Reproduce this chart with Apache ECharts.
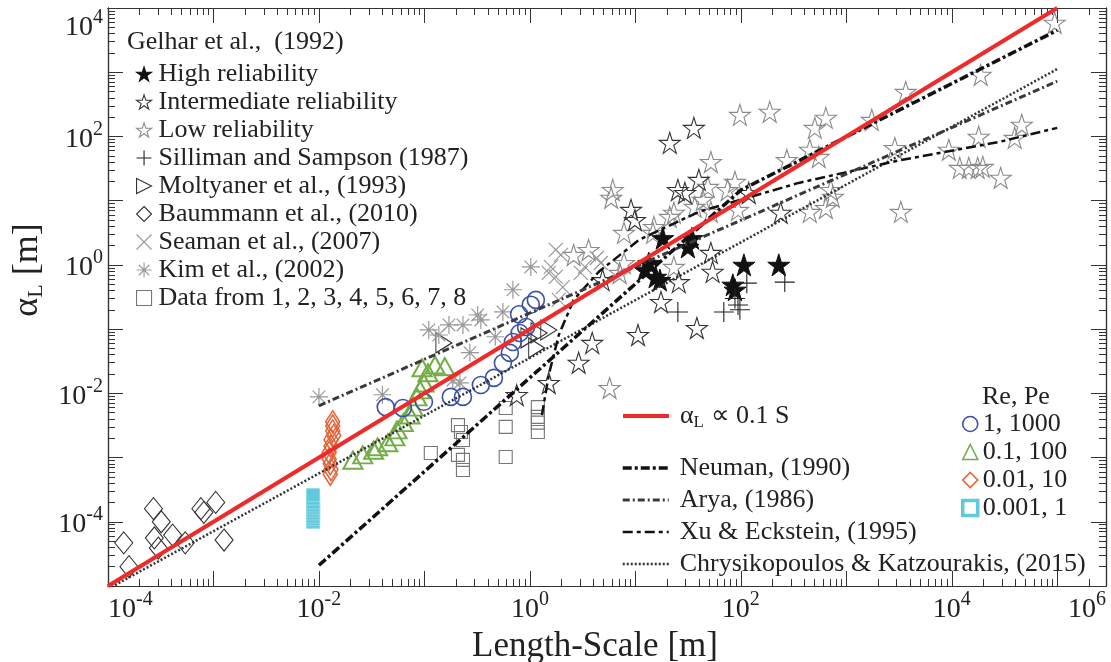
<!DOCTYPE html>
<html><head><meta charset="utf-8">
<script src="https://cdn.jsdelivr.net/npm/echarts@6/dist/echarts.min.js"></script>
<style>html,body{margin:0;padding:0;background:#fff}#c{width:1111px;height:662px}</style>
</head><body><div id="c"></div>
<script>
// ---------------- data (S [m], alpha_L [m]) ----------------
const xLabelExps = [-4, -2, 0, 2, 4];
const yLabelExps = [-4, -2, 0, 2, 4];
const xEdgeLabelExp = 6;
const xMin = 1e-4, xMax = 2.9e5, yMin = 1e-5, yMax = 1e4;

const highRel = [[18.2,2.6],[31.5,1.9],[34.4,2.6],[12.3,0.84],[15.6,0.65],[17.1,0.58],[13.4,1.07],[107,1.0],[229,1.0],[84,0.49],[88,0.41]];
const interRel = [[35.9,136],[21.2,79.5],[9.1,7.2],[9.9,5.0],[25.3,14.7],[29.5,13.2],[40,21.1],[119,13.2],[239,6.5],[52,1.54],[54,0.78],[25.8,0.54],[17.5,0.265],[4.9,0.58],[10.6,0.081],[38.3,0.104],[3.9,0.061],[2.9,0.030],[1.51,0.0145],[0.75,0.0094]];
const lowRel = [[94600,5900],[18800,912],[3660,495],[1745,181],[640,195],[503,136],[188,242],[98,217],[52,40],[451,62],[548,48],[273,43],[2884,66],[9376,62],[18000,99],[46100,152],[39500,95],[11900,32.4],[14500,32.4],[17600,32.4],[19700,33.6],[29100,22.7],[3290,6.7],[6.1,14.7],[5.9,11.1],[7.8,3.15],[15,3.9],[14.7,3.15],[21.2,5.6],[23.2,6.5],[48.7,16.4],[36.6,8.0],[43.6,10.3],[52,6.7],[75,14.7],[88,19.6],[94,7.2],[451,6.7],[640,7.7],[745,11.5],[713,14.7],[23.2,0.93],[7.8,1.07],[7.1,0.75],[5.7,0.0121],[3.6,1.71],[2.6,1.43]];
const silliman = [[114,0.52],[261,0.54],[25.3,0.185],[69,0.185],[94,0.238],[98,0.2],[88,0.3]];
const moltyaner = [[0.153,0.061],[0.98,0.073],[1.22,0.087],[1.51,0.097],[1.16,0.051]];
const baummann = [[1.41e-4,4.7e-5],[1.58e-4,2.0e-5],[2.7e-4,1.6e-4],[3.2e-4,1.0e-4],[2.75e-4,5.6e-5],[3.0e-4,3.9e-5],[4.1e-4,6.2e-5],[5.4e-4,4.7e-5],[7.6e-4,1.6e-4],[8.1e-4,1.4e-4],[1.05e-3,2.0e-4],[1.26e-3,5.2e-5]];
const seaman = [[1.97,1.43],[1.76,0.65],[2.05,0.45],[3.32,0.93],[3.04,0.75],[4.3,1.28],[4.7,1.07],[1.51,0.75],[1.76,1.71],[1.58,0.93],[1.88,0.285]];
const kim = [[0.01,8.8e-3],[0.040,9.5e-3],[0.171,0.116],[0.232,0.116],[0.343,0.139],[0.555,0.185],[0.27,0.043],[0.186,0.016],[0.217,0.0145],[1.02,0.93],[0.69,0.41],[0.32,0.166],[0.137,0.081],[0.11,0.097],[0.47,0.076]];
const dataRefs = [[0.115,1.18e-3],[0.208,3.2e-3],[0.222,2.5e-3],[0.232,1.88e-3],[0.208,1.1e-3],[0.232,9.2e-4],[0.232,6.4e-4],[0.59,5.9e-3],[0.59,3.0e-3],[0.59,1.02e-3],[1.19,6.1e-3],[1.19,4.3e-3],[1.19,3.5e-3],[1.19,2.5e-3]];

const re1 = [[0.043,6.1e-3],[0.0625,5.9e-3],[0.099,7.4e-3],[0.178,8.8e-3],[0.232,8.8e-3],[0.343,0.0135],[0.456,0.0174],[0.555,0.0297],[0.646,0.0426],[0.69,0.063],[0.80,0.087],[0.92,0.108],[0.79,0.17],[1.02,0.24],[1.14,0.285]];
const re01 = [[0.021,9.1e-4],[0.026,1.1e-3],[0.033,1.3e-3],[0.036,1.47e-3],[0.045,1.7e-3],[0.0525,2.1e-3],[0.055,2.7e-3],[0.063,3.5e-3],[0.073,4.6e-3],[0.078,6.1e-3],[0.085,8.8e-3],[0.091,0.0113],[0.099,0.0145],[0.108,0.0209],[0.126,0.0276],[0.156,0.026],[0.095,0.025]];
const re001 = [[0.0135,3.6e-3],[0.0135,3.1e-3],[0.0135,2.6e-3],[0.0138,2.2e-3],[0.013,1.9e-3],[0.013,1.5e-3],[0.0125,1.2e-3],[0.0125,9.5e-4],[0.0128,8e-4],[0.013,6.5e-4],[0.0128,5.5e-4]];
const re0001 = [[0.0088,1.0e-4],[0.0088,1.1e-4],[0.0088,1.2e-4],[0.0088,1.35e-4],[0.0088,1.5e-4],[0.0088,1.65e-4],[0.0088,1.8e-4],[0.0088,2.0e-4],[0.0088,2.3e-4],[0.0088,2.6e-4]];

const redLine = [[1e-4,1e-5],[1e5,1e4]];
const neuman = [[0.01,2.1e-5],[100,14.6],[1e5,4500]];
const arya = [[0.01,0.0064],[1e5,725]];
const xuEck = [[1.3,0.0046],[1.51,0.0194],[1.88,0.081],[2.6,0.285],[4.5,0.78],[10.8,2.45],[40,6.7],[354,18.9],[3300,43],[2.8e4,82],[1e5,136]];
const chrys = [[1e-4,0.9e-5],[1e5,1120]];

// ---------------- styling ----------------
const FONT = '"Liberation Serif","Times New Roman",serif';
const TXT = '#222';
const STAR = 'path://M50,0L61.2,34.5L97.6,34.5L68.2,55.9L79.4,90.5L50,69.1L20.6,90.5L31.8,55.9L2.4,34.5L38.8,34.5Z';
const PLUS = 'path://M50,0L50,100M0,50L100,50';
const CROSS = 'path://M0,0L100,100M100,0L0,100';
const AST = 'path://M50,0L50,100M0,50L100,50M15,15L85,85M85,15L15,85';
const TRIR = 'path://M0,0L100,50L0,100Z';
const NONE = 'rgba(0,0,0,0)';
const RED_NAME = 'αL ∝ 0.1 S';
const CYAN = '#62c9dc';

function minorVals(lo, hi, vmin, vmax) {
  const out = [];
  for (let e = lo; e <= hi; e++) for (let m = 2; m <= 9; m++) {
    const v = m * Math.pow(10, e);
    if (v > vmin && v < vmax) out.push(v);
  }
  return out;
}
const minorX = minorVals(-4, 5, xMin, xMax);
const minorY = minorVals(-5, 3, yMin, yMax);

const richTick = {
  b: {fontFamily: FONT, fontSize: 28, color: TXT, verticalAlign: 'bottom'},
  e: {fontFamily: FONT, fontSize: 20, color: TXT, verticalAlign: 'top', padding: [0, 0, 14, 0]}
};
function expOf(v) { return Math.log10(v); }

function axisCommon(kind, pos, withLabel, minor) {
  const isX = kind === 'x';
  const a = {
    type: 'log', logBase: 10,
    min: isX ? xMin : yMin, max: isX ? xMax : yMax,
    position: pos, splitNumber: 12,
    axisLine: {show: true, onZero: false, lineStyle: {color: '#333', width: 1.2}},
    splitLine: {show: false},
    axisTick: minor
      ? {show: true, inside: true, length: 7, customValues: isX ? minorX : minorY, lineStyle: {color: '#333', width: 1}}
      : {show: true, inside: true, length: 15, lineStyle: {color: '#333', width: 1}},
    axisLabel: {show: false}
  };
  if (withLabel) {
    a.axisLabel = {
      show: true, margin: isX ? 4 : 5, rich: richTick,
      formatter: function (v) {
        const e = expOf(v), r = Math.round(e);
        if (Math.abs(e - r) > 0.02) return isX ? '{b|10}{e|' + xEdgeLabelExp + '}' : '';
        const list = isX ? xLabelExps : yLabelExps;
        return list.indexOf(r) >= 0 ? '{b|10}{e|' + r + '}' : '';
      }
    };
    if (isX) { a.axisLabel.alignMinLabel = 'left'; a.axisLabel.alignMaxLabel = 'right'; }
    else { a.axisLabel.verticalAlignMaxLabel = 'top'; }
  }
  return a;
}

const xAxes = [axisCommon('x', 'bottom', true, false), axisCommon('x', 'top', false, false),
               axisCommon('x', 'bottom', false, true), axisCommon('x', 'top', false, true)];
xAxes[0].name = 'Length-Scale [m]';
xAxes[0].nameLocation = 'middle';
xAxes[0].nameGap = 33;
xAxes[0].nameTextStyle = {fontFamily: FONT, fontSize: 35, color: TXT, padding: [0, 24, 0, 0]};
const yAxes = [axisCommon('y', 'left', true, false), axisCommon('y', 'right', false, false),
               axisCommon('y', 'left', false, true), axisCommon('y', 'right', false, true)];
yAxes[0].name = '{a|α}{s|L}{a| [m]}';
yAxes[0].nameLocation = 'middle';
yAxes[0].nameGap = 60;
yAxes[0].nameTextStyle = {
  padding: [0, 0, 0, 54],
  rich: {
    a: {fontFamily: FONT, fontSize: 36, color: TXT, lineHeight: 40},
    s: {fontFamily: FONT, fontSize: 22, color: TXT, verticalAlign: 'bottom'}
  }
};

function sc(name, data, symbol, size, fill, stroke, bw, z) {
  return {
    type: 'scatter', name: name, data: data, symbol: symbol, symbolSize: size,
    xAxisIndex: 0, yAxisIndex: 0, z: z || 2,
    itemStyle: {color: fill, borderColor: stroke, borderWidth: bw, opacity: 1},
    emphasis: {disabled: true}
  };
}
function ln(name, data, color, width, type, z) {
  return {
    type: 'line', name: name, data: data, symbol: 'none', xAxisIndex: 0, yAxisIndex: 0,
    z: z || 5, color: color,
    lineStyle: {color: color, width: width, type: type, cap: 'butt'},
    emphasis: {disabled: true}
  };
}

const series = [
  sc('Data from 1, 2, 3, 4, 5, 6, 7, 8', dataRefs, 'rect', 13, NONE, '#777', 1.1),
  sc('Baummann et al., (2010)', baummann, 'diamond', [18, 22], NONE, '#333', 1.1),
  sc('Low reliability', lowRel, STAR, 21, NONE, '#8a8a8a', 1.1),
  sc('Intermediate reliability', interRel, STAR, 21, NONE, '#333', 1.1),
  sc('High reliability', highRel, STAR, 22, '#111', '#111', 1),
  sc('Silliman and Sampson (1987)', silliman, PLUS, 20, NONE, '#222', 1.1),
  sc('Moltyaner et al., (1993)', moltyaner, TRIR, [16, 20], NONE, '#333', 1.1),
  sc('Seaman et al., (2007)', seaman, CROSS, 14, NONE, '#999', 1.2),
  sc('Kim et al., (2002)', kim, AST, 18, NONE, '#999', 1.2),
  sc('0.001, 1', re0001, 'rect', 13, CYAN, '#8fd9e6', 1, 3),
  sc('0.01, 10', re001, 'diamond', [14, 22], NONE, '#e4643a', 1.6, 3),
  sc('0.1, 100', re01, 'triangle', [19, 17], NONE, '#73ad47', 2, 3),
  sc('1, 1000', re1, 'circle', 17, NONE, '#3c50a5', 1.6, 3),
  ln('Chrysikopoulos & Katzourakis, (2015)', chrys, '#333', 2.5, [2, 2]),
  ln('Xu & Eckstein, (1995)', xuEck, '#111', 2.5, [10, 4, 4, 4]),
  ln('Arya, (1986)', arya, '#3a3a3a', 3, [7, 3, 2, 3]),
  ln('Neuman, (1990)', neuman, '#111', 3.5, [9, 3, 3, 3]),
  ln(RED_NAME, redLine, '#ee2a2a', 4, 'solid', 6)
];

const legText = {fontFamily: FONT, fontSize: 26, color: TXT};
const legends = [
  {
    data: ['High reliability','Intermediate reliability','Low reliability','Silliman and Sampson (1987)',
           'Moltyaner et al., (1993)','Baummann et al., (2010)','Seaman et al., (2007)','Kim et al., (2002)',
           'Data from 1, 2, 3, 4, 5, 6, 7, 8'],
    orient: 'vertical', left: 136, top: 61, itemWidth: 15, itemHeight: 15, itemGap: 2, padding: 0,
    selectedMode: false, textStyle: Object.assign({padding: [0, 0, 0, 2]}, legText),
    itemStyle: {borderWidth: 1.1}
  },
  {
    data: [RED_NAME], orient: 'vertical', left: 621, top: 403, itemWidth: 46, itemHeight: 14, padding: 0,
    selectedMode: false, lineStyle: {width: 'inherit'}, itemStyle: {opacity: 0},
    textStyle: Object.assign({padding: [0, 0, 0, 6], rich: {
      a: {fontFamily: FONT, fontSize: 26, color: TXT, lineHeight: 30},
      s: {fontFamily: FONT, fontSize: 17, color: TXT, verticalAlign: 'bottom'}
    }}, legText),
    formatter: function (n) { return n === RED_NAME ? '{a|α}{s|L}{a| ∝ 0.1 S}' : n; }
  },
  {
    data: ['Neuman, (1990)','Arya, (1986)','Xu & Eckstein, (1995)','Chrysikopoulos & Katzourakis, (2015)'],
    orient: 'vertical', left: 621, top: 455, itemWidth: 46, itemHeight: 14, itemGap: 6, padding: 0,
    selectedMode: false, lineStyle: {width: 'inherit'}, itemStyle: {opacity: 0},
    textStyle: Object.assign({padding: [0, 0, 0, 6]}, legText)
  },
  {
    data: ['1, 1000','0.1, 100','0.01, 10',
           {name: '0.001, 1', itemStyle: {color: '#fff', borderColor: CYAN, borderWidth: 3.5}}],
    orient: 'vertical', left: 961, top: 411, itemWidth: 15, itemHeight: 15, itemGap: 2, padding: 0,
    selectedMode: false, textStyle: legText, itemStyle: {borderWidth: 1.6}
  }
];

const chart = echarts.init(document.getElementById('c'), null, {renderer: 'canvas'});
chart.setOption({
  backgroundColor: '#fff',
  animation: false,
  title: [
    {text: 'Gelhar et al.,  (1992)', left: 127, top: 29, padding: 0,
     textStyle: {fontFamily: FONT, fontSize: 26, fontWeight: 'normal', color: TXT}},
    {text: 'Re, Pe', left: 982, top: 384, padding: 0,
     textStyle: {fontFamily: FONT, fontSize: 26, fontWeight: 'normal', color: TXT}}
  ],
  grid: {left: 108, right: 5, top: 8, bottom: 76, containLabel: false, outerBoundsMode: 'none'},
  xAxis: xAxes,
  yAxis: yAxes,
  legend: legends,
  series: series
});
</script>
</body></html>
